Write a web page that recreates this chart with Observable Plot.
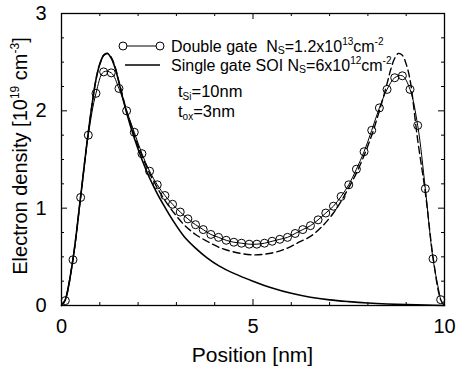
<!DOCTYPE html>
<html><head><meta charset="utf-8">
<script src="https://cdn.jsdelivr.net/npm/d3@7"></script>
<script src="https://cdn.jsdelivr.net/npm/@observablehq/plot@0.6"></script>
<style>body{margin:0;background:#fff}svg{display:block}</style>
</head><body><div id="chart"></div>
<script>
// Double gate (circles)
const dgX = [0.1,0.3,0.5,0.7,0.9,1.1,1.3,1.5,1.7,1.9,2.1,2.3,2.5,2.7,2.9,3.1,3.3,3.5,3.7,3.9,4.1,4.3,4.5,4.7,4.9,5.1,5.3,5.5,5.7,5.9,6.1,6.3,6.5,6.7,6.9,7.1,7.3,7.5,7.7,7.9,8.1,8.3,8.5,8.7,8.9,9.1,9.3,9.5,9.7,9.9];
const dgY = [0.05,0.47,1.11,1.75,2.18,2.40,2.39,2.23,2.00,1.78,1.56,1.38,1.24,1.13,1.04,0.96,0.89,0.83,0.78,0.73,0.70,0.67,0.65,0.64,0.63,0.63,0.64,0.66,0.68,0.70,0.74,0.78,0.82,0.88,0.95,1.02,1.12,1.24,1.40,1.58,1.80,2.03,2.22,2.34,2.36,2.22,1.85,1.20,0.48,0.06];
// Single gate SOI (solid)
const sgX = [0,0.1,0.3,0.5,0.7,0.9,1.0,1.1,1.2,1.3,1.4,1.5,1.7,1.9,2.1,2.3,2.5,2.7,2.9,3.2,3.5,3.8,4.1,4.5,5.0,5.5,6.0,6.5,7.0,7.5,8.0,8.5,9.0,9.5,10];
const sgY = [0,0.06,0.48,1.12,1.78,2.32,2.48,2.57,2.59,2.54,2.44,2.29,1.98,1.72,1.50,1.31,1.15,1.01,0.88,0.71,0.59,0.49,0.41,0.33,0.25,0.18,0.125,0.085,0.058,0.04,0.026,0.016,0.009,0.004,0];
// Dashed curve
const dsX = [0,0.1,0.3,0.5,0.7,0.9,1.0,1.1,1.2,1.3,1.4,1.5,1.7,1.9,2.1,2.3,2.5,2.7,2.9,3.2,3.5,3.8,4.1,4.5,5.0,5.5,5.9,6.2,6.5,6.8,7.1,7.3,7.5,7.7,7.9,8.1,8.3,8.5,8.6,8.7,8.8,8.9,9.0,9.1,9.3,9.5,9.7,9.9,10];
const dsY = [0,0.06,0.48,1.12,1.78,2.32,2.48,2.57,2.59,2.55,2.45,2.30,2.00,1.75,1.54,1.36,1.21,1.08,0.97,0.83,0.73,0.66,0.60,0.55,0.52,0.54,0.59,0.65,0.71,0.81,0.95,1.07,1.21,1.36,1.54,1.75,2.00,2.28,2.43,2.54,2.59,2.57,2.48,2.32,1.70,1.16,0.50,0.06,0];
const xTickLabels = [0,5,10];
const yTickLabels = [0,1,2,3];
const xMinorTicks = [1,2,3,4,6,7,8,9];
const yMinorTicks = [0.25,0.5,0.75,1.25,1.5,1.75,2.25,2.5,2.75];

const dg = dgX.map((x,i)=>({x,y:dgY[i]}));
const sg = sgX.map((x,i)=>({x,y:sgY[i]}));
const ds = dsX.map((x,i)=>({x,y:dsY[i]}));

const W=456,H=373,mL=61,mR=12,mT=13,mB=68;
const pw=W-mL-mR, ph=H-mT-mB;
const ty = (px)=>px*3/ph, tx=(px)=>px*10/pw;

const font = "Liberation Sans, Arial, Helvetica, sans-serif";
const plot = Plot.plot({
  width: W, height: H,
  marginLeft: mL, marginRight: mR, marginTop: mT, marginBottom: mB,
  style: {fontFamily: font, background: "#fff", color: "#000"},
  x: {domain: [0,10]},
  y: {domain: [0,3]},
  marks: [
    Plot.frame({stroke: "#000", strokeWidth: 1.3}),
    Plot.axisX({ticks: xTickLabels, tickSize: 0, tickPadding: 13, fontSize: 20, label: null, tickFormat: d=>String(d)}),
    Plot.axisY({ticks: yTickLabels, tickSize: 0, tickPadding: 15, fontSize: 20, label: null, tickFormat: d=>String(d)}),
    // inward ticks
    Plot.ruleX(xTickLabels, {x: d=>d, y1: 0, y2: ty(6), stroke: "#000"}),
    Plot.ruleX(xTickLabels, {x: d=>d, y1: 3-ty(6), y2: 3, stroke: "#000"}),
    Plot.ruleX(xMinorTicks, {x: d=>d, y1: 0, y2: ty(3), stroke: "#000"}),
    Plot.ruleX(xMinorTicks, {x: d=>d, y1: 3-ty(3), y2: 3, stroke: "#000"}),
    Plot.ruleY(yTickLabels, {y: d=>d, x1: 0, x2: tx(6), stroke: "#000"}),
    Plot.ruleY(yTickLabels, {y: d=>d, x1: 10-tx(6), x2: 10, stroke: "#000"}),
    Plot.ruleY(yMinorTicks, {y: d=>d, x1: 0, x2: tx(3), stroke: "#000"}),
    Plot.ruleY(yMinorTicks, {y: d=>d, x1: 10-tx(3), x2: 10, stroke: "#000"}),
    Plot.line(sg, {x: "x", y: "y", stroke: "#000", strokeWidth: 1.6, curve: "catmull-rom"}),
    Plot.line(ds, {x: "x", y: "y", stroke: "#000", strokeWidth: 1.4, strokeDasharray: "7,4", curve: "catmull-rom"}),
    Plot.line(dg, {x: "x", y: "y", stroke: "#000", strokeWidth: 1, curve: "catmull-rom"}),
    Plot.dot(dg, {x: "x", y: "y", r: 4, stroke: "#000", fill: "none", strokeWidth: 1})
  ]
});
document.getElementById("chart").appendChild(plot);

const svg = d3.select(plot);
const g = svg.append("g").attr("font-family", font).attr("fill", "#000").attr("text-anchor", "start");
// legend
const L = g.append("g");
L.append("line").attr("x1",123).attr("x2",160).attr("y1",46).attr("y2",46).attr("stroke","#000").attr("stroke-width",1);
[123,160].forEach(cx=>L.append("circle").attr("cx",cx).attr("cy",46).attr("r",4).attr("fill","#fff").attr("stroke","#000"));
L.append("line").attr("x1",125).attr("x2",160).attr("y1",65).attr("y2",65).attr("stroke","#000").attr("stroke-width",1.6);

function rich(sel, parts) {
  parts.forEach(p=>{
    const t = sel.append("tspan").text(p.t);
    if (p.s) t.attr("font-size", p.s);
    if (p.dy) t.attr("dy", p.dy);
  });
}
const t1 = g.append("text").attr("x",171).attr("y",52).attr("font-size",16);
rich(t1, [{t:"Double gate  N"},{t:"S",s:10.5,dy:2},{t:"=1.2x10",dy:-2},{t:"13",s:10,dy:-7},{t:"cm",dy:7},{t:"-2",s:10,dy:-7}]);
const t2 = g.append("text").attr("x",171).attr("y",71).attr("font-size",16);
rich(t2, [{t:"Single gate SOI N"},{t:"S",s:10.5,dy:2},{t:"=6x10",dy:-2},{t:"12",s:10,dy:-7},{t:"cm",dy:7},{t:"-2",s:10,dy:-7}]);
const t3 = g.append("text").attr("x",178).attr("y",97).attr("font-size",16.5);
rich(t3, [{t:"t"},{t:"Si",s:10,dy:3},{t:"=10nm",dy:-3}]);
const t4 = g.append("text").attr("x",178).attr("y",117).attr("font-size",16.5);
rich(t4, [{t:"t"},{t:"ox",s:10,dy:3},{t:"=3nm",dy:-3}]);

// axis labels
g.append("text").attr("x", mL+pw/2).attr("y", 362).attr("text-anchor","middle").attr("font-size",21).text("Position [nm]");
const yl = g.append("text").attr("transform",`translate(27,${mT+ph/2 - 3}) rotate(-90)`).attr("text-anchor","middle").attr("font-size",20);
rich(yl, [{t:"Electron density [10"},{t:"19",s:12,dy:-8},{t:" cm",dy:8},{t:"-3",s:12,dy:-8},{t:"]",dy:8}]);
</script>
</body></html>
